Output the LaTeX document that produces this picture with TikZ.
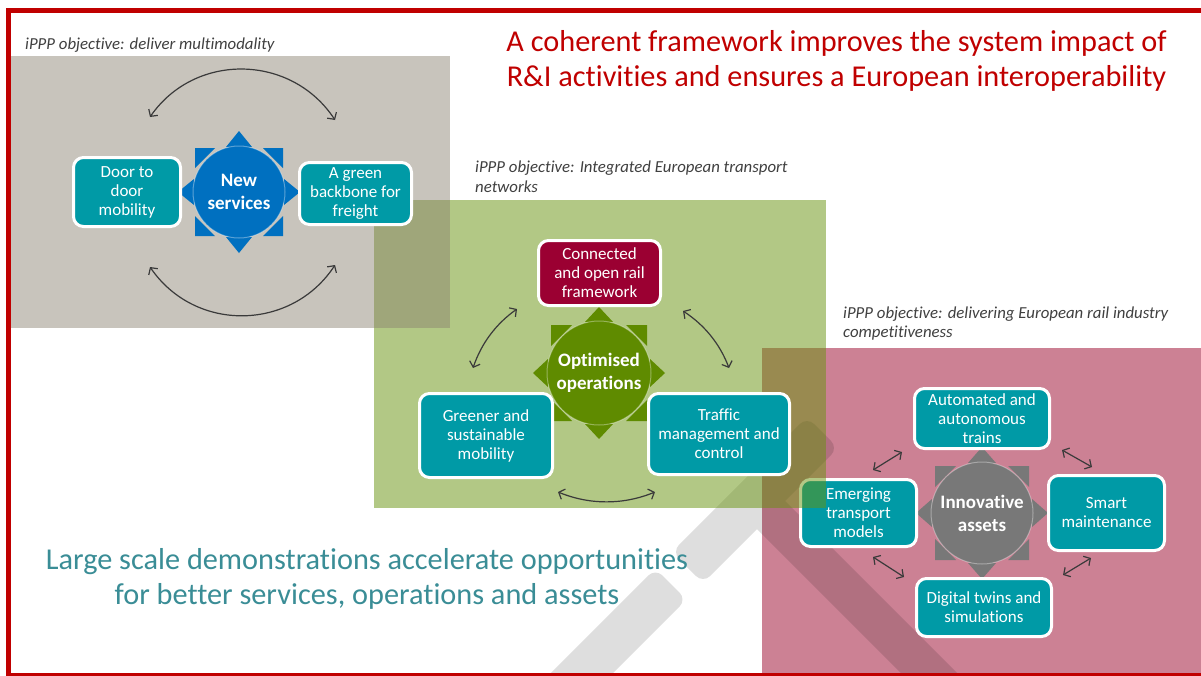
\documentclass[tikz,border=0pt]{standalone}
\usepackage{fontspec}
\setmainfont{Carlito}[Ligatures=NoCommon]
\usetikzlibrary{arrows.meta}
\definecolor{tealbox}{HTML}{009AA6}
\definecolor{crimsonbox}{HTML}{9B0032}
\definecolor{sealblue}{HTML}{0070C0}
\definecolor{sealgreen}{HTML}{5F8B00}
\definecolor{sealgray}{HTML}{787878}
\definecolor{titlered}{HTML}{C00000}
\definecolor{bottomteal}{HTML}{3A8D96}
\definecolor{labelgray}{HTML}{404040}
\definecolor{arrowgray}{HTML}{3A3A3A}
\definecolor{pinkpanel}{HTML}{CC8194}
\definecolor{greenpanel}{HTML}{67930D}
\definecolor{graypanel}{HTML}{897F6F}
% #1 x, #2 y, #3 circle radius, #4 apex distance, #5 triangle half width,
% #6 square half side, #7 corner leg, #8 colour
\newcommand\sealbg[8]{%
  \begin{scope}[shift={(#1,#2)}]
    \fill[#8] (-#5,-#3+1) -- (#5,-#3+1) -- (0,-#4) -- cycle;
    \fill[#8] (-#5,#3-1) -- (#5,#3-1) -- (0,#4) -- cycle;
    \fill[#8] (-#3+1,-#5) -- (-#3+1,#5) -- (-#4,0) -- cycle;
    \fill[#8] (#3-1,-#5) -- (#3-1,#5) -- (#4,0) -- cycle;
    \fill[#8] (-#6,-#6) -- (-#6+#7,-#6) -- (-#6,-#6+#7) -- cycle;
    \fill[#8] (#6,-#6) -- (#6-#7,-#6) -- (#6,-#6+#7) -- cycle;
    \fill[#8] (#6,#6) -- (#6-#7,#6) -- (#6,#6-#7) -- cycle;
    \fill[#8] (-#6,#6) -- (-#6+#7,#6) -- (-#6,#6-#7) -- cycle;
  \end{scope}}
\tikzset{
  box/.style={draw=white, line width=3pt, rounded corners=10pt, fill=tealbox, text=white,
    align=center, inner sep=0pt, font=\fontsize{17}{19}\selectfont},
  sealnode/.style={circle, inner sep=0pt, text=white, align=center,
    font=\bfseries\fontsize{19}{23}\selectfont, draw=white, draw opacity=0.35, line width=1pt},
  dbl/.style={draw=arrowgray, line width=1.2pt,
    {Straight Barb[length=5pt,width=11pt]}-{Straight Barb[length=5pt,width=11pt]}},
  lbl/.style={font=\itshape\fontsize{16.8}{19.5}\selectfont, text=labelgray, align=left,
    anchor=north west, inner sep=0pt},
  bigtext/.style={font=\fontsize{30.3}{35.5}\selectfont, align=center, anchor=north, inner sep=0pt}
}
\begin{document}
\begin{tikzpicture}[x=1pt,y=-1pt]
\useasboundingbox (0,0) rectangle (1201,675);
\fill[white] (0,0) rectangle (1201,675);

% pink panel
\fill[pinkpanel] (762,348) rectangle (1215,690);

% watermark bars
\fill[black, opacity=0.13, rounded corners=10pt]
  (531.9,691.9) -- (655.4,568.4) -- (686.6,599.6) -- (563.1,723.1) -- cycle
  (671.9,551.9) -- (806.9,416.9) -- (838.1,448.1) -- (703.1,583.1) -- cycle
  (762.1,477.9) -- (992.1,707.9) -- (963.9,736.1) -- (733.9,506.1) -- cycle;

% ---- innovative assets diagram
\coordinate (pa1) at (873,470); \coordinate (pa2) at (902,452);
\coordinate (pb1) at (1062,450); \coordinate (pb2) at (1092,467);
\coordinate (pc1) at (873,557); \coordinate (pc2) at (904,577);
\coordinate (pd1) at (1063,575); \coordinate (pd2) at (1091,558);
\draw[dbl] (pa1) -- (pa2);
\draw[dbl] (pb1) -- (pb2);
\draw[dbl] (pc1) -- (pc2);
\draw[dbl] (pd1) -- (pd2);
\sealbg{982}{513}{51}{66}{14}{47}{21}{sealgray}
\node[sealnode, fill=sealgray, minimum size=102pt] (ia) at (982,513) {Innovative\\assets};
\node[box, minimum width=135pt, minimum height=60pt] (auto) at (982,418.5) {Automated and\\autonomous\\trains};
\node[box, minimum width=116pt, minimum height=75pt] (smart) at (1106.5,513) {Smart\\maintenance};
\node[box, minimum width=116pt, minimum height=67pt] (emerg) at (858.5,513) {Emerging\\transport\\models};
\node[box, minimum width=135pt, minimum height=58pt] (digit) at (984,607.5) {Digital twins and\\simulations};

% green panel (semi-transparent)
\fill[greenpanel, opacity=0.5] (374,200) rectangle (826,508);
% gray panel (semi-transparent)
\fill[graypanel, opacity=0.46] (10,56) rectangle (450,328);

% ---- new services diagram
\coordinate (ta1) at (150,117); \coordinate (ta2) at (335,120);
\coordinate (tb1) at (150,267); \coordinate (tb2) at (335,265);
\draw[dbl] (ta1) .. controls (195.3,51.8) and (291.7,54.1) .. (ta2);
\draw[dbl] (tb1) .. controls (195.3,333) and (291.7,331) .. (tb2);
\sealbg{239}{192}{46}{61}{13}{44}{20}{sealblue}
\node[sealnode, fill=sealblue, minimum size=92pt] (ns) at (239,192) {New\\services};
\node[box, minimum width=107pt, minimum height=69pt] (door) at (127,192) {Door to\\door\\mobility};
\node[box, minimum width=112pt, minimum height=62pt] (freight) at (355.5,193.5) {A green\\backbone for\\freight};

% ---- optimised operations diagram
\coordinate (gl1) at (517,309); \coordinate (gl2) at (473,368);
\coordinate (gr1) at (683,311); \coordinate (gr2) at (729,368);
\coordinate (gb1) at (558,492); \coordinate (gb2) at (655,492);
\draw[dbl] (gl1) .. controls (495.9,323.9) and (481.3,343.5) .. (gl2);
\draw[dbl] (gr1) .. controls (704.5,325) and (719.9,344) .. (gr2);
\draw[dbl] (gb1) .. controls (590,505) and (623,505) .. (gb2);
\sealbg{599}{373}{52}{66}{14}{48}{21}{sealgreen}
\node[sealnode, fill=sealgreen, minimum size=104pt] (oo) at (599,373) {Optimised\\operations};
\node[box, fill=crimsonbox, minimum width=122pt, minimum height=65pt] (conn) at (599.5,273) {Connected\\and open rail\\framework};
\node[box, minimum width=133pt, minimum height=84pt] (green) at (486,435.5) {Greener and\\sustainable\\mobility};
\node[box, minimum width=141pt, minimum height=81pt] (traffic) at (719,434) {Traffic\\management and\\control};

% border
\draw[titlered, line width=5pt] (8,10) rectangle (1240,675);

% texts
\node[lbl] (l1) at (25,37.5) {iPPP objective: deliver multimodality};
\node[lbl] (l2) at (475,161) {iPPP objective: Integrated European transport\\networks};
\node[lbl] (l3) at (843,306.5) {iPPP objective: delivering European rail industry\\competitiveness};
\node[bigtext, text=titlered] (title) at (836.5,30) {A coherent framework improves the system impact of\\R\&I activities and ensures a European interoperability};
\node[bigtext, text=bottomteal] (bottom) at (367,548) {Large scale demonstrations accelerate opportunities\\for better services, operations and assets};
\end{tikzpicture}
\end{document}
